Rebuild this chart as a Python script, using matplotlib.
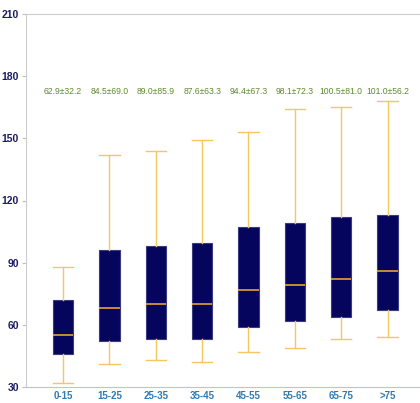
import numpy as np
import matplotlib.pyplot as plt

# AGE GROUPS AND BOX STATISTICS
groups = ['0-15', '15-25', '25-35', '35-45', '45-55', '55-65', '65-75', '>75']
whisker_low = [32, 41, 43, 42, 47, 49, 53, 54]
q1 = [46, 52, 53, 53, 59, 62, 64, 67]
median = [55, 68, 70, 70, 77, 79, 82, 86]
q3 = [72, 96, 98, 99.5, 107, 109, 112, 113]
whisker_high = [88, 142, 144, 149, 153, 164, 165, 168]
labels = ['62.9±32.2', '84.5±69.0', '89.0±85.9', '87.6±63.3',
          '94.4±67.3', '98.1±72.3', '100.5±81.0', '101.0±56.2']

plt.rcParams['font.family'] = ['Liberation Sans', 'DejaVu Sans']

fig = plt.figure(figsize=(4.2, 4.03), dpi=100)
ax = fig.add_axes([26/420, 16/403, 1 - 26/420, 373/403])

stats = []
for i in range(len(groups)):
    stats.append({'whislo': whisker_low[i], 'q1': q1[i], 'med': median[i],
                  'q3': q3[i], 'whishi': whisker_high[i], 'fliers': [], 'label': groups[i]})

pos = np.arange(len(groups))
ax.bxp(stats, positions=pos, widths=0.44, patch_artist=True, showfliers=False,
       boxprops=dict(facecolor='#05055e', edgecolor='#3a3a80', linewidth=0.8),
       medianprops=dict(color='#e8a22c', linewidth=1.2),
       whiskerprops=dict(color='#f6c662', linewidth=1.0),
       capprops=dict(color='#f6c662', linewidth=1.0),
       capwidths=0.44)

for i in range(len(groups)):
    ax.text(pos[i], 172.7, labels[i], ha='center', va='center', fontsize=6.2, color='#5e8a2e')

ax.set_ylim(30, 210)
ax.set_xlim(-0.8, 7.7)
ax.set_yticks([30, 60, 90, 120, 150, 180, 210])
ax.set_xticks(pos)
ax.set_xticklabels(groups)

for lbl in ax.get_yticklabels():
    lbl.set_fontweight('bold')
    lbl.set_color('#1c1c64')
    lbl.set_fontsize(7.5)
for lbl in ax.get_xticklabels():
    lbl.set_fontweight('bold')
    lbl.set_color('#2f79b0')
    lbl.set_fontsize(7)

ax.tick_params(axis='x', length=0, pad=3)
ax.tick_params(axis='y', length=3, color='#c0c0c0', pad=2)
ax.spines['right'].set_visible(False)
ax.spines['top'].set_color('#cccccc')
ax.spines['left'].set_color('#cccccc')
ax.spines['bottom'].set_color('#b8c4d8')

fig.savefig('out.png', dpi=100)
